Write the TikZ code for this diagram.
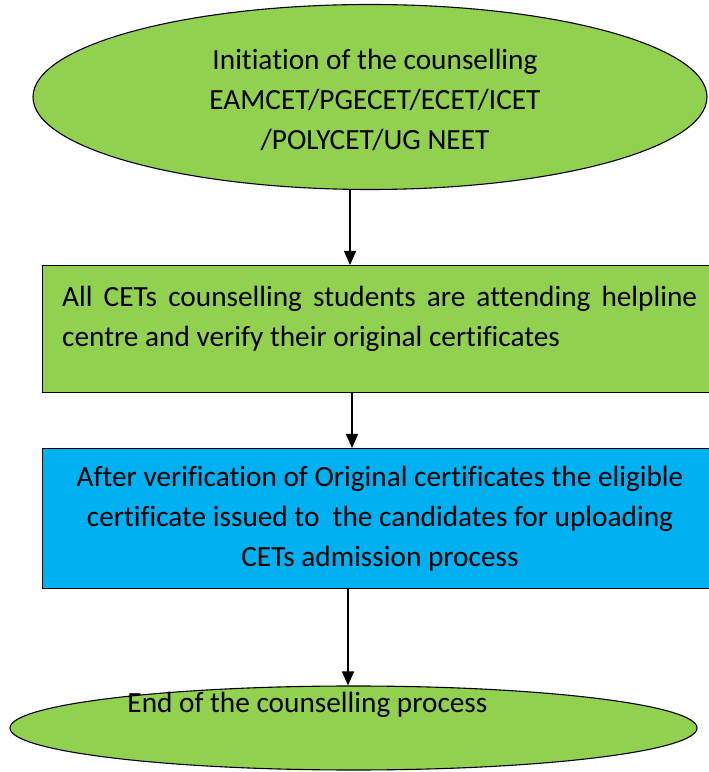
\documentclass[tikz,border=0pt]{standalone}
\usepackage{fontspec}
\setmainfont{Carlito}[Ligatures={NoCommon}]
\usetikzlibrary{shapes.geometric,arrows.meta,calc}
\definecolor{fgreen}{HTML}{92D050}
\definecolor{fblue}{HTML}{00B0F0}
\begin{document}
\begin{tikzpicture}[x=1pt,y=1pt,
  shapeline/.style={draw=black,line width=1.1pt},
  txt/.style={font=\fontsize{29.3}{40}\selectfont,inner sep=0pt},
  arr/.style={line width=1.4pt,-{Triangle[length=14pt,width=12pt]}}]
\useasboundingbox (0,0) rectangle (709,772);
\clip (0,0) rectangle (709,772);
% top ellipse
\node[ellipse,shapeline,fill=fgreen,minimum width=674pt,minimum height=185pt,inner sep=0pt] (e1) at (370,675) {};
\node[txt,align=center] (t1) at (375,672) {Initiation of the counselling\\EAMCET/PGECET/ECET/ICET\\/POLYCET/UG NEET};
% box 1
\node[rectangle,shapeline,fill=fgreen,anchor=north west,minimum width=680pt,minimum height=127pt,inner sep=0pt] (b1) at (42,507) {};
\node[txt,align=left,anchor=north west] (t2) at (62,486) {\makebox[635pt][s]{All CETs counselling students are attending helpline}\\centre and verify their original certificates};
% box 2
\node[rectangle,shapeline,fill=fblue,anchor=north west,minimum width=680pt,minimum height=140pt,inner sep=0pt] (b2) at (42,324) {};
\node[txt,align=center] (t3) at (380,253) {After verification of Original certificates the eligible\\certificate issued to\ \ the candidates for uploading\\CETs admission process};
% bottom ellipse
\node[ellipse,shapeline,fill=fgreen,minimum width=687pt,minimum height=84pt,inner sep=0pt] (e2) at (353.5,44) {};
\node[txt] (t4) at (307.5,67) {End of the counselling process};
% arrows
\coordinate (c1) at (350,0);
\coordinate (c2) at (352,0);
\coordinate (c3) at (348,0);
\draw[arr] (e1.south -| c1) -- (b1.north -| c1);
\draw[arr] (b1.south -| c2) -- (b2.north -| c2);
\draw[arr] (b2.south -| c3) -- (e2.north -| c3);
\end{tikzpicture}
\end{document}
